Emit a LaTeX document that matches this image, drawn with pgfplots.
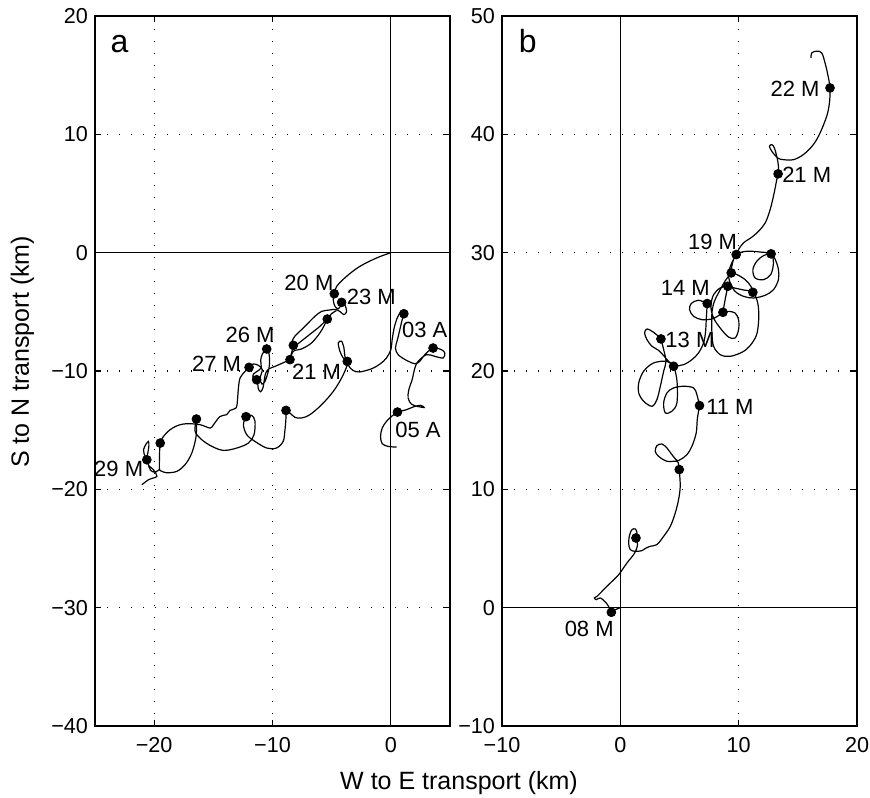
\documentclass[border=0pt]{standalone}
\usepackage{fontspec}
\setmainfont{Liberation Sans}
\usepackage{pgfplots}
\pgfplotsset{compat=1.18}
\tikzset{lab/.style={font=\fontsize{11}{13}\selectfont, inner sep=0pt}}
\pgfplotsset{
  panel/.style={
    scale only axis, width=177.5pt, height=355pt,
    anchor=south west,
    grid=major,
    major grid style={black, line width=0.55pt, dash pattern=on 0.6pt off 5.4pt},
    axis line style={black, line width=0.8pt},
    tick style={black, line width=0.6pt},
    major tick length=3pt,
    tick align=inside,
    ticklabel style={font=\fontsize{10.8}{12}\selectfont},
    xticklabel style={yshift=-2pt},
    clip=false,
  },
  traj/.style={black, line width=0.6pt, smooth, tension=0.55, mark=none},
  dots/.style={only marks, mark=*, mark size=2.2pt, black},
  zl/.style={black, line width=0.55pt, mark=none},
}
\begin{document}
\begin{tikzpicture}
\useasboundingbox (-47.5pt,-35.5pt) rectangle (387.5pt,363pt);
% ---------------- panel a ----------------
\begin{axis}[panel, at={(0pt,0pt)},
  xmin=-25, xmax=5, ymin=-40, ymax=20,
  xtick={-20,-10,0}, xticklabels={−20,−10,0},
  ytick={-40,-30,-20,-10,0,10,20}, yticklabels={−40,−30,−20,−10,0,10,20}]
\addplot[zl] coordinates {(0,-40) (0,20)};
\addplot[zl] coordinates {(-25,0) (5,0)};
\addplot[traj] coordinates {(0,0) (-1.21,-0.45) (-2.62,-1.16) (-3.74,-2.0) (-4.58,-2.85) (-4.78,-3.47) (-4.87,-3.97) (-4.73,-4.52) (-4.45,-4.74) (-4.25,-4.5) (-4.16,-4.2) (-3.88,-4.41) (-3.74,-4.97) (-3.97,-5.24) (-4.3,-4.97) (-4.7,-4.8) (-5.2,-4.85) (-5.85,-4.96) (-6.42,-5.38) (-6.98,-5.94) (-7.55,-6.51) (-8.12,-7.07) (-8.4,-7.63) (-8.24,-7.83) (-8.35,-8.3) (-8.45,-8.7) (-8.52,-9.04)};
\addplot[traj] coordinates {(-8.52,-9.04) (-8.3,-8.4) (-8.12,-8.25) (-7.55,-8.14) (-6.7,-7.63) (-6.0,-6.79) (-5.6,-6.1) (-5.37,-5.61) (-5.0,-5.15) (-4.6,-4.9)};
\addplot[traj] coordinates {(-5.37,-5.61) (-6.0,-6.23) (-6.7,-6.79) (-7.41,-7.35) (-7.97,-7.78) (-8.24,-7.83)};
\addplot[traj] coordinates {(-8.52,-9.04) (-9.2,-9.35) (-9.79,-9.61) (-10.35,-9.85) (-10.6,-10.25) (-10.7,-10.8) (-10.8,-11.4) (-11.0,-11.75) (-11.2,-11.5) (-11.25,-11.0) (-11.34,-10.74) (-11.65,-10.6) (-11.6,-10.25) (-11.25,-10.0) (-10.95,-9.7) (-11.0,-9.1) (-10.85,-8.55) (-10.49,-8.14) (-10.3,-8.5) (-10.25,-9.4) (-10.4,-10.2) (-10.65,-10.9) (-10.9,-11.1) (-11.05,-10.6) (-10.86,-9.89) (-11.2,-9.52) (-11.62,-9.41) (-11.98,-9.69)};
\addplot[traj] coordinates {(-11.98,-9.69) (-12.32,-10.03) (-12.74,-10.59) (-12.88,-11.44) (-12.97,-12.57) (-13.08,-13.13) (-13.59,-13.33) (-13.87,-13.69) (-14.43,-13.84) (-14.99,-14.54) (-15.27,-14.82) (-16.12,-14.54) (-17.24,-14.45) (-18.0,-14.6) (-18.65,-14.96) (-19.21,-15.53) (-19.49,-16.09) (-19.55,-17.36) (-19.55,-18.3) (-19.4,-18.45) (-18.93,-18.6) (-18.09,-18.48) (-17.39,-17.92) (-16.82,-16.93) (-16.46,-15.53) (-16.43,-14.06)};
\addplot[traj] coordinates {(-19.55,-18.3) (-19.9,-18.55) (-20.3,-18.4) (-20.5,-17.9) (-20.62,-17.5) (-20.85,-17.0) (-20.9,-16.65) (-20.7,-16.2) (-20.48,-15.95) (-20.45,-16.4) (-20.55,-17.0) (-20.62,-17.5) (-20.45,-18.0) (-20.06,-18.34) (-19.77,-18.9) (-20.1,-19.05) (-20.48,-19.19) (-21.04,-19.61)};
\addplot[traj] coordinates {(-16.43,-14.06) (-16.54,-15.1) (-15.97,-15.81) (-15.12,-16.37) (-14.14,-16.71) (-13.02,-16.51) (-12.04,-16.09) (-11.56,-15.38) (-11.48,-14.25) (-11.76,-13.75) (-12.24,-13.86)};
\addplot[traj] coordinates {(-12.24,-13.86) (-12.46,-14.54) (-12.18,-15.38) (-11.48,-15.95) (-10.49,-16.51) (-9.66,-16.51) (-9.1,-15.95) (-8.96,-15.1) (-8.87,-14.11) (-8.86,-13.33)};
\addplot[traj] coordinates {(-8.86,-13.33) (-8.52,-13.55) (-8.1,-13.92) (-7.54,-13.97) (-6.84,-13.69) (-5.85,-12.85) (-4.86,-11.72) (-4.16,-10.59) (-3.72,-9.6) (-3.68,-9.19) (-4.02,-8.9) (-4.3,-8.34) (-4.44,-7.63) (-4.16,-7.49) (-3.96,-8.06) (-3.88,-8.76) (-3.6,-9.5) (-3.2,-9.95) (-2.62,-10.08) (-1.6,-9.8) (-0.9,-9.4) (-0.37,-8.9) (0,-8.2) (0.11,-7.35) (0.28,-6.37) (0.54,-5.52) (0.84,-5.02) (1.10,-5.16)};
\addplot[traj] coordinates {(1.10,-5.16) (0.96,-5.66) (0.76,-6.51) (0.56,-7.35) (0.39,-8.06) (0.62,-8.62) (1.32,-9.1) (2.03,-9.38) (2.45,-9.18) (2.87,-8.62) (3.57,-8.06) (4.28,-8.2) (4.56,-8.48) (4.42,-8.9) (3.71,-8.76) (3.01,-8.62) (2.31,-9.18) (2.03,-9.75) (1.8,-10.74) (1.52,-11.58) (1.46,-12.29) (1.74,-12.8) (2.25,-12.99) (2.81,-13.08) (2.53,-12.9) (2.03,-12.99) (1.32,-13.27) (0.56,-13.47) (0.06,-13.84) (-0.37,-14.26) (-0.73,-14.82) (-0.87,-15.53) (-0.73,-16.14) (-0.23,-16.37) (0.48,-16.43)};
\addplot[dots] coordinates {(-4.78,-3.47) (-4.16,-4.2) (-5.37,-5.61) (-8.24,-7.83) (-8.52,-9.04) (-10.49,-8.14) (-11.98,-9.69) (-11.34,-10.74) (-20.62,-17.5) (-19.49,-16.09) (-16.43,-14.06) (-12.24,-13.86) (-8.86,-13.33) (-3.68,-9.19) (1.10,-5.16) (3.57,-8.06) (0.56,-13.47)};
\node[lab] at (axis cs:-6.92,-2.54) {20 M};
\node[lab] at (axis cs:-1.65,-3.76) {23 M};
\node[lab] at (axis cs:-11.9,-6.97) {26 M};
\node[lab] at (axis cs:-14.73,-9.43) {27 M};
\node[lab] at (axis cs:-6.27,-10.1) {21 M};
\node[lab] at (axis cs:2.87,-6.51) {03 A};
\node[lab] at (axis cs:2.3,-14.96) {05 A};
\node[lab] at (axis cs:-23.0,-18.3) {29 M};
\node[font=\fontsize{16}{18}\selectfont, inner sep=0pt, anchor=base west] at (axis cs:-23.71,16.9) {a};
\end{axis}
% ---------------- panel b ----------------
\begin{axis}[panel, at={(203.5pt,0pt)},
  xmin=-10, xmax=20, ymin=-10, ymax=50,
  xtick={-10,0,10,20}, xticklabels={−10,0,10,20},
  ytick={-10,0,10,20,30,40,50}, yticklabels={−10,0,10,20,30,40,50}]
\addplot[zl] coordinates {(0,-10) (0,50)};
\addplot[zl] coordinates {(-10,0) (20,0)};
\addplot[traj] coordinates {(0,0) (-0.42,-0.17) (-0.76,-0.39) (-0.84,-0.17) (-1.18,0.39) (-1.69,0.82) (-2.03,0.68) (-2.19,0.82) (-1.97,0.96) (-1.55,1.38) (-0.84,2.09) (-0.14,2.79) (0.56,3.78) (1.2,4.6) (1.46,5.33) (1.32,5.89) (1.41,6.31) (1.27,6.65) (0.98,6.59) (0.79,6.17) (0.70,5.47) (0.84,4.9) (1.27,4.76) (1.83,4.82) (2.11,5.0) (2.53,5.19) (3.09,5.33) (3.66,6.03) (4.22,6.87) (4.64,8.0) (4.92,9.13) (5.06,10.26) (4.98,11.67) (4.92,12.09) (4.78,12.37) (3.94,12.37) (3.23,12.79) (2.95,13.21) (3.09,13.69) (3.52,13.83) (3.94,13.49) (4.36,12.93) (4.78,12.45) (5.06,12.51) (5.63,12.93) (6.05,13.64) (6.41,14.76) (6.5,15.9) (6.61,16.6) (6.69,17.08)};
\addplot[traj] coordinates {(6.69,17.08) (6.47,18.0) (6.19,18.57) (5.35,18.71) (4.5,18.57) (3.94,18.15) (3.66,17.3) (3.8,16.46) (4.36,16.6) (4.78,17.3) (4.8,18.99) (4.64,20.0) (4.5,20.4) (3.94,20.82) (2.81,20.68) (1.97,19.98) (1.55,18.99) (1.55,18.15) (1.97,17.44) (2.67,17.02) (3.09,17.58) (3.38,18.71) (3.66,19.98) (3.86,20.82) (3.66,21.81) (3.52,22.37) (3.43,22.71) (2.81,23.27) (2.25,23.55) (2.05,23.21) (2.25,22.65) (2.67,22.09) (3.23,21.75) (3.71,21.24) (4.08,20.82) (4.6,20.45) (5.35,20.54) (6.05,20.96) (6.61,21.53) (7.03,22.37) (7.2,23.3) (7.26,24.34) (7.31,25.18) (7.34,25.7)};
\addplot[traj] coordinates {(7.34,25.7) (6.6,25.98) (5.99,25.7) (5.85,25.18) (6.19,24.62) (6.89,24.34) (7.74,24.4) (8.3,24.68) (8.67,24.96) (9.14,25.04) (9.7,24.9) (9.99,24.34) (9.99,23.49) (9.7,22.79) (9.14,22.87) (8.44,23.63) (7.88,24.48) (7.65,25.46) (7.88,26.45) (8.44,27.02) (9.08,27.16) (9.7,27.0) (10.4,26.85) (11.2,26.65) (11.6,25.8) (11.7,24.62) (11.56,23.22) (11.14,22.37) (10.42,21.66) (9.29,21.24) (8.44,21.38) (7.88,22.09) (7.74,23.22) (7.74,24.9) (7.95,25.9) (8.35,26.7) (8.85,27.6) (9.37,28.29)};
\addplot[traj] coordinates {(8.67,24.96) (8.85,26.0) (9.08,27.16)};
\addplot[traj] coordinates {(9.37,28.29) (9.85,28.15) (10.55,27.72) (11.03,27.16) (11.2,26.65)};
\addplot[traj] coordinates {(9.37,28.29) (9.45,29.0) (9.79,29.84) (10.69,30.12) (11.96,30.04) (12.74,29.9) (12.94,29.14) (12.71,28.15) (12.1,27.72) (11.39,27.86) (11.2,28.57) (11.53,29.28) (12.1,29.75) (12.74,29.9) (13.1,29.4) (13.36,28.57) (13.36,27.72) (12.94,26.87) (12.24,26.4) (11.25,26.17) (10.41,26.31) (9.7,26.73) (9.28,27.44) (9.14,28.29) (9.42,29.14) (9.79,29.84) (9.99,30.27) (10.41,30.83) (11.1,31.3) (11.67,31.8) (12.24,32.51) (12.66,33.64) (13.0,35.05) (13.22,36.18) (13.33,36.66) (13.36,37.3) (13.25,38.0) (13.02,38.85) (12.8,39.13) (12.6,38.99) (12.8,38.57) (13.3,38.0) (13.78,37.86) (14.63,37.86) (15.47,38.29) (16.31,39.13) (16.88,40.12) (17.44,41.53) (17.67,42.66) (17.72,43.92) (17.5,45.19) (17.3,46.03) (17.02,46.88) (16.6,47.03) (16.17,46.88) (16.12,46.46)};
\addplot[dots] coordinates {(-0.76,-0.39) (1.32,5.89) (4.98,11.67) (6.69,17.08) (4.5,20.4) (3.43,22.71) (7.34,25.7) (8.67,24.96) (9.08,27.16) (11.2,26.65) (9.37,28.29) (9.79,29.84) (12.74,29.9) (13.33,36.66) (17.72,43.92)};
\node[lab] at (axis cs:14.77,43.87) {22 M};
\node[lab] at (axis cs:15.75,36.6) {21 M};
\node[lab] at (axis cs:7.8,30.9) {19 M};
\node[lab] at (axis cs:5.49,27.0) {14 M};
\node[lab] at (axis cs:5.88,22.6) {13 M};
\node[lab] at (axis cs:9.26,16.95) {11 M};
\node[lab] at (axis cs:-2.63,-1.82) {08 M};
\node[font=\fontsize{16}{18}\selectfont, inner sep=0pt, anchor=base west] at (axis cs:-8.61,46.9) {b};
\end{axis}
\node[rotate=90, font=\fontsize{12.5}{14}\selectfont, inner sep=0pt] at (-36.25pt,187pt) {S to N transport (km)};
\node[anchor=base, font=\fontsize{12.5}{14}\selectfont, inner sep=0pt] at (182pt,-31.5pt) {W to E transport (km)};
\end{tikzpicture}
\end{document}
